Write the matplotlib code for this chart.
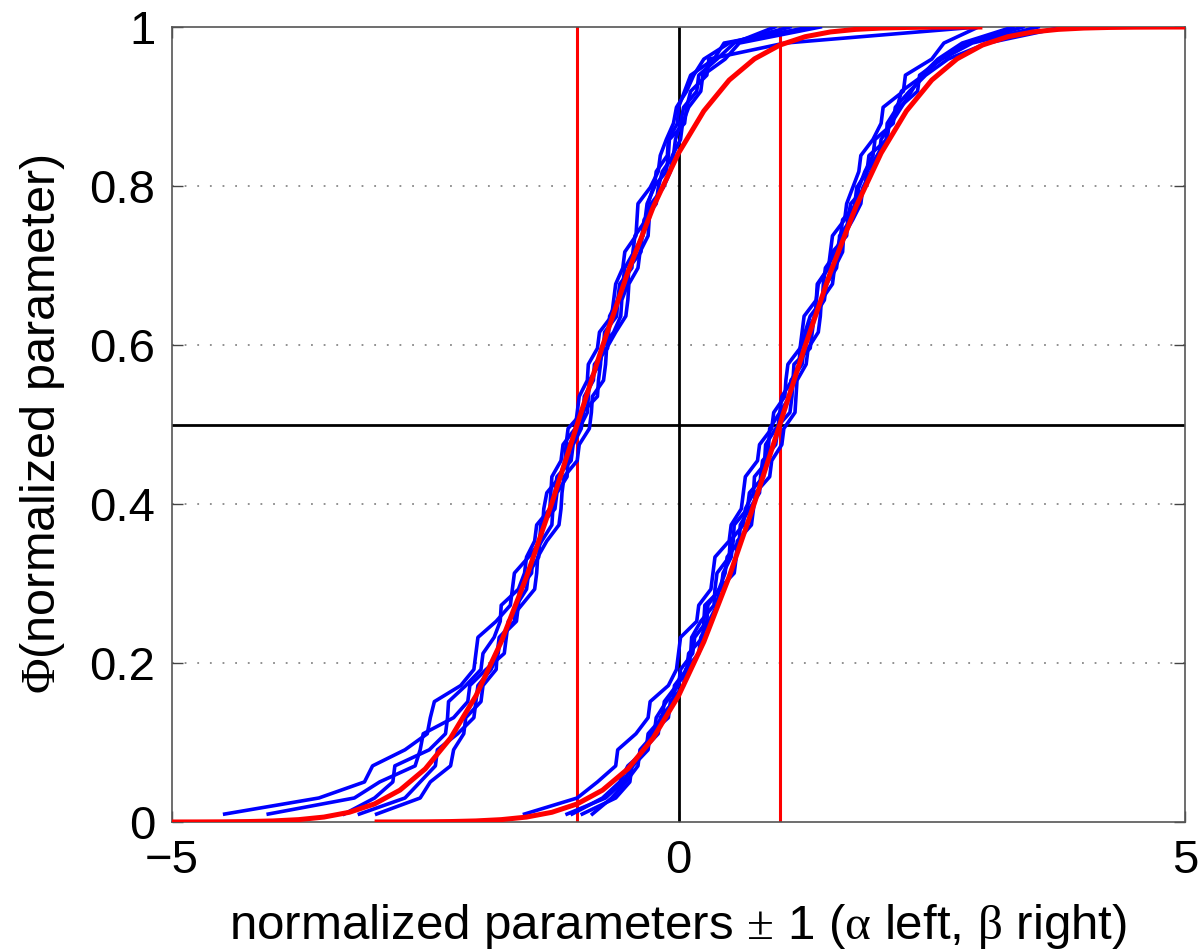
import numpy as np
import matplotlib
matplotlib.use("Agg")
import matplotlib.pyplot as plt

plt.rcParams['font.family'] = ['Liberation Sans', 'DejaVu Sans']
plt.rcParams['mathtext.fontset'] = 'custom'
plt.rcParams['mathtext.rm'] = 'Liberation Serif'
plt.rcParams['mathtext.it'] = 'Liberation Serif'
plt.rcParams['mathtext.bf'] = 'Liberation Serif:bold'

# sorted sample values of the five runs, alpha (left group) and beta (right group)
alpha_runs = [
    [-4.48, -3.55, -3.10, -3.02, -2.70, -2.48, -2.45, -2.41, -2.15, -2.02, -2.00, -1.98, -1.80, -1.66, -1.64, -1.62, -1.48,
     -1.36, -1.34, -1.33, -1.30, -1.17, -1.12, -1.11, -1.09, -0.95, -0.80, -0.79, -0.77, -0.76, -0.64, -0.57, -0.56, -0.50,
     -0.49, -0.37, -0.36, -0.34, -0.22, -0.20, -0.16, -0.05, -0.03, 0.02, 0.05, 0.18, 0.20, 0.38, 0.55, 0.95],
    [-4.05, -3.20, -2.95, -2.60, -2.55, -2.52, -2.22, -2.08, -2.06, -1.90, -1.72, -1.70, -1.68, -1.55, -1.42, -1.40, -1.39,
     -1.30, -1.18, -1.16, -1.15, -1.13, -1.00, -0.98, -0.88, -0.86, -0.85, -0.74, -0.72, -0.71, -0.62, -0.52, -0.50, -0.49,
     -0.40, -0.38, -0.30, -0.29, -0.27, -0.15, -0.08, -0.06, 0.02, 0.04, 0.10, 0.22, 0.24, 0.46, 0.60, 1.40],
    [-3.15, -2.70, -2.55, -2.40, -2.38, -2.18, -2.02, -2.00, -1.98, -1.85, -1.78, -1.76, -1.60, -1.58, -1.57, -1.45, -1.44,
     -1.35, -1.25, -1.24, -1.22, -1.20, -1.06, -1.04, -0.96, -0.94, -0.93, -0.84, -0.83, -0.70, -0.69, -0.68, -0.60, -0.58,
     -0.46, -0.45, -0.43, -0.32, -0.30, -0.25, -0.12, -0.10, -0.09, 0.06, 0.08, 0.12, 0.28, 0.30, 1.05, 2.95],
    [-3.30, -3.00, -2.82, -2.80, -2.46, -2.30, -2.28, -2.27, -2.10, -1.95, -1.93, -1.82, -1.76, -1.75, -1.58, -1.52, -1.50,
     -1.42, -1.40, -1.27, -1.26, -1.25, -1.16, -1.14, -1.02, -1.00, -0.98, -0.90, -0.89, -0.80, -0.78, -0.66, -0.64, -0.62,
     -0.55, -0.53, -0.42, -0.41, -0.40, -0.28, -0.20, -0.18, -0.12, -0.05, -0.02, 0.08, 0.15, 0.25, 0.50, 1.10],
    [-2.98, -2.55, -2.45, -2.25, -2.22, -2.12, -2.10, -1.95, -1.93, -1.80, -1.79, -1.77, -1.62, -1.60, -1.50, -1.48, -1.38,
     -1.37, -1.36, -1.22, -1.20, -1.10, -1.09, -1.08, -0.98, -0.90, -0.89, -0.88, -0.78, -0.74, -0.73, -0.61, -0.60, -0.55,
     -0.53, -0.44, -0.35, -0.33, -0.31, -0.24, -0.22, -0.11, -0.10, -0.01, 0.00, 0.06, 0.12, 0.35, 0.45, 1.30],
]

beta_runs = [
    [-1.52, -1.00, -0.80, -0.62, -0.60, -0.42, -0.30, -0.28, -0.10, -0.02, 0.00, 0.02, 0.18, 0.20, 0.32, 0.34, 0.36, 0.50,
     0.52, 0.62, 0.64, 0.66, 0.78, 0.80, 0.92, 0.94, 1.05, 1.06, 1.08, 1.20, 1.22, 1.24, 1.36, 1.38, 1.48, 1.50, 1.52, 1.64,
     1.66, 1.72, 1.78, 1.80, 1.92, 2.00, 2.02, 2.22, 2.24, 2.50, 2.62, 2.96],
    [-1.10, -0.72, -0.55, -0.45, -0.30, -0.28, -0.10, -0.08, 0.05, 0.07, 0.20, 0.22, 0.30, 0.38, 0.40, 0.55, 0.57, 0.58,
     0.72, 0.74, 0.76, 0.90, 0.92, 1.02, 1.04, 1.15, 1.16, 1.17, 1.26, 1.28, 1.38, 1.40, 1.41, 1.52, 1.54, 1.62, 1.63, 1.72,
     1.80, 1.82, 1.90, 1.98, 2.00, 2.10, 2.20, 2.30, 2.40, 2.56, 2.80, 3.30],
    [-0.95, -0.62, -0.48, -0.46, -0.35, -0.20, -0.18, -0.05, -0.04, 0.08, 0.10, 0.24, 0.25, 0.26, 0.42, 0.44, 0.52, 0.54,
     0.55, 0.68, 0.70, 0.84, 0.85, 0.86, 0.96, 1.10, 1.12, 1.13, 1.14, 1.30, 1.32, 1.34, 1.44, 1.46, 1.56, 1.58, 1.59, 1.70,
     1.74, 1.76, 1.86, 1.88, 2.06, 2.08, 2.18, 2.36, 2.38, 2.60, 2.90, 3.55],
    [-0.85, -0.66, -0.52, -0.40, -0.38, -0.24, -0.22, -0.12, 0.00, 0.02, 0.14, 0.16, 0.28, 0.29, 0.40, 0.46, 0.48, 0.60,
     0.61, 0.70, 0.80, 0.81, 0.83, 0.96, 0.98, 1.00, 1.10, 1.11, 1.22, 1.24, 1.25, 1.30, 1.42, 1.43, 1.45, 1.56, 1.60, 1.62,
     1.76, 1.78, 1.84, 1.92, 1.94, 2.12, 2.14, 2.28, 2.44, 2.66, 3.05, 3.80],
    [-1.05, -0.75, -0.58, -0.50, -0.32, -0.30, -0.16, -0.14, -0.02, 0.10, 0.12, 0.13, 0.22, 0.35, 0.36, 0.38, 0.50, 0.51,
     0.64, 0.66, 0.74, 0.75, 0.88, 0.89, 0.90, 1.00, 1.02, 1.12, 1.19, 1.20, 1.26, 1.35, 1.36, 1.37, 1.48, 1.52, 1.66, 1.67,
     1.70, 1.84, 1.86, 1.96, 2.05, 2.06, 2.16, 2.20, 2.42, 2.58, 2.86, 3.40],
]

# reference normal CDF, read at offsets from the centre
ref_offset = [-4.0, -3.75, -3.5, -3.25, -3.0, -2.75, -2.5, -2.25, -2.0, -1.75, -1.5, -1.25, -1.0, -0.75, -0.5, -0.25, 0.0,
              0.25, 0.5, 0.75, 1.0, 1.25, 1.5, 1.75, 2.0, 2.25, 2.5, 2.75, 3.0, 3.25, 3.5, 3.75, 4.0]
ref_cdf = [0.00003, 0.00009, 0.00023, 0.00058, 0.00135, 0.00298, 0.00621, 0.01222, 0.02275, 0.04006, 0.06681, 0.10565,
           0.15866, 0.22663, 0.30854, 0.40129, 0.5, 0.59871, 0.69146, 0.77337, 0.84134, 0.89435, 0.93319, 0.95994,
           0.97725, 0.98778, 0.99379, 0.99702, 0.99865, 0.99942, 0.99977, 0.99991, 0.99997]
centres = [-1.0, 1.0]

xticks = [-5, 0, 5]
xticklabels = ['\u22125', '0', '5']
yticks = [0, 0.2, 0.4, 0.6, 0.8, 1]
yticklabels = ['0', '0.2', '0.4', '0.6', '0.8', '1']

fig = plt.figure(figsize=(12.03, 9.51), dpi=100)
ax = fig.add_axes([172 / 1203, 129 / 951, 1013 / 1203, 795 / 951])

for yv in yticks[1:-1]:
    ax.axhline(yv, color='#888888', lw=1.3, linestyle=(0, (1, 6)), zorder=1)

for runs in (alpha_runs, beta_runs):
    for run in runs:
        ax.plot(run, np.linspace(0.01, 1.0, len(run)), color='#0000ff', lw=2.6, zorder=3)

off = np.array(ref_offset)
for c in centres:
    ax.plot(off + c, ref_cdf, color='#ff0000', lw=3.6, zorder=4, solid_capstyle='butt')

for c in centres:
    ax.axvline(c, color='#ff0000', lw=2.2, zorder=2)
ax.axvline(0, color='black', lw=2.0, zorder=2)
ax.axhline(0.5, color='black', lw=2.0, zorder=2)

ax.set_xlim(-5, 5)
ax.set_ylim(0, 1)
ax.set_xticks(xticks)
ax.set_xticklabels(xticklabels)
ax.set_yticks(yticks)
ax.set_yticklabels(yticklabels)
ax.tick_params(direction='in', length=8, width=1, color='#444444', labelsize=34, top=True, right=True, pad=12)
ax.tick_params(axis='x', pad=12)
for s in ax.spines.values():
    s.set_color('#555555')
    s.set_linewidth(1.2)

ax.set_xlabel(r'normalized parameters $\pm$ 1 ($\alpha$ left, $\beta$ right)', fontsize=35.5, labelpad=14)
ax.set_ylabel(r'$\Phi$(normalized parameter)', fontsize=35, labelpad=16)

fig.savefig('out.png', dpi=100)
